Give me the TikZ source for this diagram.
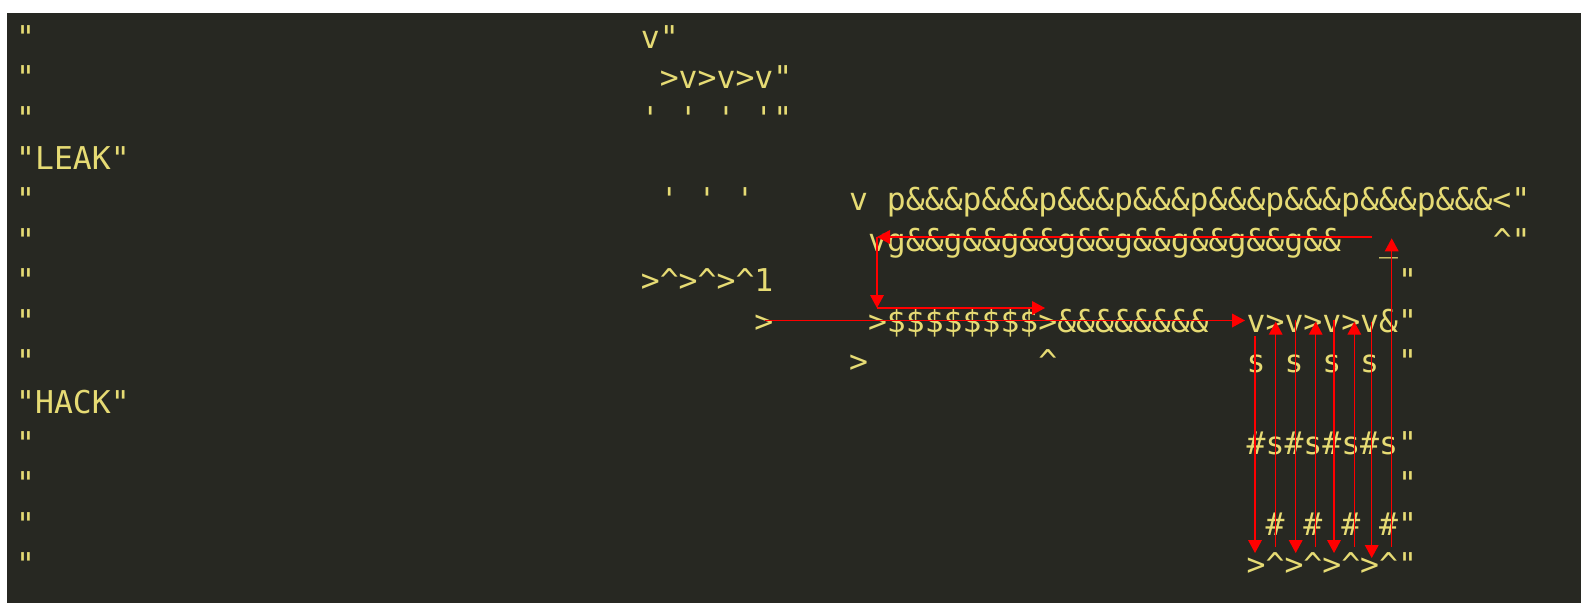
\documentclass[tikz,border=0pt]{standalone}
\usepackage{fontspec}
\setmonofont{DejaVu Sans Mono}
\usetikzlibrary{arrows.meta}
\definecolor{bgdark}{HTML}{272822}
\definecolor{strcol}{HTML}{E6DB74}
\definecolor{flow}{HTML}{FF0000}
\newcommand{\colx}[1]{15.84+18.93*#1}
\newcommand{\rowy}[1]{48+40.6*(#1-1)}
\newcommand{\crt}{\textasciicircum}
\tikzset{
  code/.style={anchor=base west,inner sep=0pt,text=strcol,
    font=\ttfamily\fontsize{17.89}{20}\selectfont},
  flowarrow/.style={draw=flow,line width=0.7pt,
    -{Triangle[length=7.4pt,width=7.8pt]}}
}

\begin{document}
\begin{tikzpicture}[x=0.02cm,y=-0.02cm]
      \useasboundingbox (0,0) rectangle (1591,613);
      \fill[white] (0,0) rectangle (1591,613);
      \fill[bgdark] (7,13) rectangle (1581,603);
      % left column
      \foreach \r in {1,2,3,5,6,7,8,9,11,12,13,14}
        \node[code] (lq\r) at ({\colx{0}},{\rowy{\r}}) {"};
      \node[code] (leak) at ({\colx{0}},{\rowy{4}}) {"LEAK"};
      \node[code] (hack) at ({\colx{0}},{\rowy{10}}) {"HACK"};
      % upper part
      \node[code] (r1) at ({\colx{33}},{\rowy{1}}) {v"};
      \node[code] (r2) at ({\colx{34}},{\rowy{2}}) {>v>v>v"};
      \foreach \c in {33,35,37,39}
        \node[code] (r3t\c) at ({\colx{\c}},{\rowy{3}}) {'};
      \node[code] (r3q) at ({\colx{40}},{\rowy{3}}) {"};
      \foreach \c in {34,36,38}
        \node[code] (r5t\c) at ({\colx{\c}},{\rowy{5}}) {'};
      \node[code] (r5v) at ({\colx{44}},{\rowy{5}}) {v};
      \node[code] (r5p) at ({\colx{46}},{\rowy{5}})
        {p\&\&\&p\&\&\&p\&\&\&p\&\&\&p\&\&\&p\&\&\&p\&\&\&p\&\&\&<"};
      \node[code] (r6g) at ({\colx{45}},{\rowy{6}})
        {vg\&\&g\&\&g\&\&g\&\&g\&\&g\&\&g\&\&g\&\&};
      \node[code] (r6u) at ({\colx{72}},{\rowy{6}}) {\_};
      \node[code] (r6r) at ({\colx{78}},{\rowy{6}}) {\crt"};
      \node[code] (r7) at ({\colx{33}},{\rowy{7}}) {>\crt>\crt>\crt1};
      \node[code] (r7q) at ({\colx{73}},{\rowy{7}}) {"};
      \node[code] (r8a) at ({\colx{39}},{\rowy{8}}) {>};
      \node[code] (r8b) at ({\colx{45}},{\rowy{8}})
        {>\$\$\$\$\$\$\$\$>\&\&\&\&\&\&\&\&};
      \node[code] (r8c) at ({\colx{65}},{\rowy{8}}) {v>v>v>v\&"};
      \node[code] (r9a) at ({\colx{44}},{\rowy{9}}) {>};
      \node[code] (r9b) at ({\colx{54}},{\rowy{9}}) {\crt};
      \foreach \c in {65,67,69,71}
        \node[code] (r9s\c) at ({\colx{\c}},{\rowy{9}}) {s};
      \node[code] (r9q) at ({\colx{73}},{\rowy{9}}) {"};
      % lower part
      \node[code] (r11) at ({\colx{65}},{\rowy{11}}) {\#s\#s\#s\#s"};
      \node[code] (r12q) at ({\colx{73}},{\rowy{12}}) {"};
      \foreach \c in {66,68,70,72}
        \node[code] (r13h\c) at ({\colx{\c}},{\rowy{13}}) {\#};
      \node[code] (r13q) at ({\colx{73}},{\rowy{13}}) {"};
      \node[code] (r14) at ({\colx{65}},{\rowy{14}}) {>\crt>\crt>\crt>\crt"};
      % flow
      \coordinate (topR) at (1372,237);
      \coordinate (topL) at (877,237);
      \coordinate (midL) at (877,308);
      \coordinate (midR) at (1045,308);
      \coordinate (inL) at (765,320.5);
      \coordinate (inR) at (1245,320.5);
      \draw[flowarrow] (topR) -- (topL);
      \draw[flowarrow] (topL) -- (midL);
      \draw[flowarrow] (midL) -- (midR);
      \draw[flowarrow] (inL) -- (inR);
      \foreach \x/\ya/\yb [count=\i] in {1255/336/553,1295.7/320/553,1334/320/553,1371.7/321.7/558}{
        \coordinate (dnA\i) at (\x,\ya);
        \coordinate (dnB\i) at (\x,\yb);
        \draw[flowarrow] (dnA\i) -- (dnB\i);
      }
      \foreach \x/\ya/\yb [count=\i] in {1275.7/546.7/321.7,1315.7/546.7/321.7,1354.3/546.7/321.7,1391.7/546.7/238.3}{
        \coordinate (upA\i) at (\x,\ya);
        \coordinate (upB\i) at (\x,\yb);
        \draw[flowarrow] (upA\i) -- (upB\i);
      }
\end{tikzpicture}
\end{document}
